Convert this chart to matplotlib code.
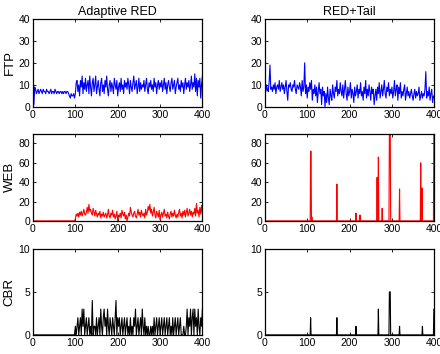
import matplotlib
matplotlib.use("Agg")
import matplotlib.pyplot as plt
import numpy as np

plt.rcParams['font.family'] = ['Liberation Sans', 'DejaVu Sans']

# column titles and row labels
titles = ["Adaptive RED", "RED+Tail"]
rows = ["FTP", "WEB", "CBR"]

# FTP throughput, sampled every 2 s from 0 to 400
ftp_t = np.arange(0, 401, 2)
ftp_ared = [21, 1, 9, 8, 6, 7, 8, 6, 7, 8, 7, 6, 8, 7, 7, 6, 8, 7, 7, 6,
            7, 8, 6, 7, 7, 6, 8, 7, 6, 7, 7, 6, 7, 7, 6, 7, 6, 7, 7, 6,
            7, 7, 6, 5, 4, 6, 5, 5, 6, 4, 6,
            11, 12, 7, 10, 5, 12, 9, 14, 6, 11, 8, 13, 7, 10, 12, 6, 14, 9, 5, 11,
            13, 7, 10, 14, 6, 9, 12, 8, 5, 11, 13, 7, 10, 6, 12, 9, 14, 8, 5, 10,
            12, 7, 11, 9, 6, 13, 10, 8, 12, 5, 9, 11, 7, 13, 8, 10, 6, 12, 9, 11,
            8, 13, 10, 6, 12, 9, 7, 11, 14, 8, 10, 12, 6, 9, 13, 7, 11, 8, 10, 9,
            12, 7, 10, 13, 8, 6, 11, 9, 12, 8, 10, 7, 13, 9, 11, 6, 10, 12, 8, 11,
            9, 12, 7, 10, 13, 8, 11, 6, 10, 12, 9, 7, 11, 13, 8, 10, 12, 6, 9, 11,
            13, 8, 10, 7, 12, 9, 11, 6, 10, 13, 8, 11, 9, 12, 7, 10, 14, 8, 11, 9,
            15, 7, 13, 5, 12, 9, 13, 4, 10, 14]
ftp_tail = [19, 7, 10, 8, 7, 11, 19, 8, 9, 7, 10, 8, 11, 6, 9, 10, 8, 12, 7, 9,
            11, 8, 10, 6, 9, 12, 7, 3, 10, 9, 11, 8, 7, 10, 9, 12, 8, 6, 10, 9,
            8, 11, 9, 5, 12, 7, 9, 20, 6, 10,
            4, 9, 7, 11, 8, 12, 3, 8, 6, 10, 5, 9, 2, 7, 11, 6, 8, 1, 9, 5,
            7, 0, 6, 2, 9, 4, 1, 8, 5, 3, 10, 6, 4, 9, 7, 12, 5, 8, 6, 11,
            7, 5, 10, 4, 8, 12, 6, 3, 9, 5, 7, 11, 4, 8, 6, 2, 9, 5, 7, 10,
            4, 8, 6, 11, 5, 7, 3, 9, 6, 12, 4, 8, 5, 10, 7, 3, 9, 6, 8, 1,
            5, 8, 3, 9, 6, 11, 4, 7, 10, 5, 8, 12, 6, 4, 9, 7, 11, 5, 8, 6,
            9, 4, 7, 12, 5, 8, 10, 3, 9, 6, 11, 4, 7, 5, 8, 10, 3, 6, 9, 5,
            7, 4, 6, 8, 5, 3, 6, 8, 4, 7, 5, 6, 9, 3, 5, 7, 4, 6, 5, 8,
            16, 4, 7, 5, 9, 3, 6, 8, 2, 5,
            4]

# WEB and CBR with Adaptive RED: zero until t=100, then every 2 s
late_t = np.arange(100, 401, 2)
web_ared = [2, 7, 5, 8, 4, 9, 6, 10, 5, 8, 12, 7, 6, 9, 14, 8, 17, 10, 12, 8,
            6, 13, 9, 5, 11, 7, 4, 8, 6, 10, 3, 7, 5, 9, 4, 6, 8, 3, 6, 12,
            5, 3, 8, 6, 11, 4, 7, 2, 5, 10, 0, 6, 4, 8, 3, 11, 7, 5, 9, 2,
            6, 0, 4, 8, 5, 14, 9, 6, 4, 8, 10, 5, 3, 7, 12, 6, 9, 4, 11, 7,
            5, 8, 3, 12, 6, 9, 15, 11, 17, 8, 12, 5, 9, 14, 6, 3, 10, 7, 4, 11,
            1, 6, 9, 4, 8, 12, 5, 7, 3, 9, 5, 2, 7, 10, 4, 8, 5, 11, 6, 3,
            7, 4, 9, 12, 5, 8, 3, 10, 6, 11, 4, 9, 13, 5, 8, 12, 6, 10, 4, 9,
            7, 13, 5, 18, 8, 11, 4, 14, 7, 16, 8]
cbr_ared = [1, 0, 1, 2, 0, 1, 2, 0, 3, 1, 3, 0, 1, 2, 0, 1, 2, 0, 1, 0,
            4, 0, 1, 1, 0, 2, 0, 1, 2, 0, 3, 1, 0, 2, 3, 1, 2, 0, 3, 1,
            0, 2, 1, 0, 2, 1, 0, 2, 4, 0, 2, 1, 2, 0, 1, 2, 0, 1, 2, 0,
            1, 2, 0, 1, 0, 2, 0, 1, 0, 2, 1, 3, 0, 1, 2, 0, 1, 2, 0, 3,
            1, 0, 2, 0, 1, 0, 1, 0, 0, 1, 0, 1, 0, 2, 0, 1, 2, 0, 1, 2,
            0, 1, 2, 0, 1, 2, 0, 1, 2, 0, 1, 2, 0, 1, 0, 2, 0, 1, 2, 0,
            1, 2, 0, 1, 2, 0, 0, 0, 1, 0, 0, 1, 3, 0, 2, 1, 3, 0, 2, 3,
            0, 3, 1, 2, 0, 3, 1, 0, 2, 1, 3]

# RED+Tail: sparse bursts (time in s, height)
web_spike_t = [108, 109, 111, 170, 215, 224, 225, 265, 268, 277, 294, 295, 296, 318, 368, 371, 399, 400]
web_spike_h = [72, 72, 4, 38, 8, 6, 6, 45, 66, 13, 95, 95, 95, 33, 60, 34, 95, 95]
cbr_spike_t = [108, 170, 215, 268, 294, 295, 296, 318, 372, 399, 400]
cbr_spike_h = [2, 2, 1, 3, 5, 5, 5, 1, 1, 3, 3]

sec = np.arange(0, 401)
web_tail = np.zeros(len(sec))
web_tail[web_spike_t] = web_spike_h
cbr_tail = np.zeros(len(sec))
cbr_tail[cbr_spike_t] = cbr_spike_h

early_t = np.arange(0, 100, 2)
web_ared_t = np.concatenate([early_t, late_t])
web_ared_y = np.concatenate([np.zeros(len(early_t)), web_ared])
cbr_ared_y = np.concatenate([np.zeros(len(early_t)), cbr_ared])

series = [
    [(ftp_t, ftp_ared), (ftp_t, ftp_tail)],
    [(web_ared_t, web_ared_y), (sec, web_tail)],
    [(web_ared_t, cbr_ared_y), (sec, cbr_tail)],
]
colors = ["#0000ff", "#ff0000", "#000000"]
ylims = [(0, 40), (0, 90), (0, 10)]
yticks = [[0, 10, 20, 30, 40], [0, 20, 40, 60, 80], [0, 5, 10]]

fig = plt.figure(figsize=(4.4, 3.54), dpi=100)
lefts = [0.075, 0.602]
bottoms = [0.698, 0.376, 0.054]
heights = [0.249, 0.246, 0.243]
width = 0.385

for r in range(3):
    for c in range(2):
        ax = fig.add_axes([lefts[c], bottoms[r], width, heights[r]])
        x, y = series[r][c]
        ax.plot(x, y, color=colors[r], lw=0.8)
        ax.set_xlim(0, 400)
        ax.set_ylim(*ylims[r])
        ax.set_xticks([0, 100, 200, 300, 400])
        ax.set_yticks(yticks[r])
        ax.tick_params(direction='in', top=True, right=True, length=2.5,
                       width=0.6, labelsize=7.5, pad=2)
        for s in ax.spines.values():
            s.set_linewidth(0.9)
        if r == 0:
            ax.set_title(titles[c], fontsize=9, pad=3)
        if c == 0:
            ax.set_ylabel(rows[r], fontsize=9.5, labelpad=2)

fig.savefig("out.png", dpi=100)
